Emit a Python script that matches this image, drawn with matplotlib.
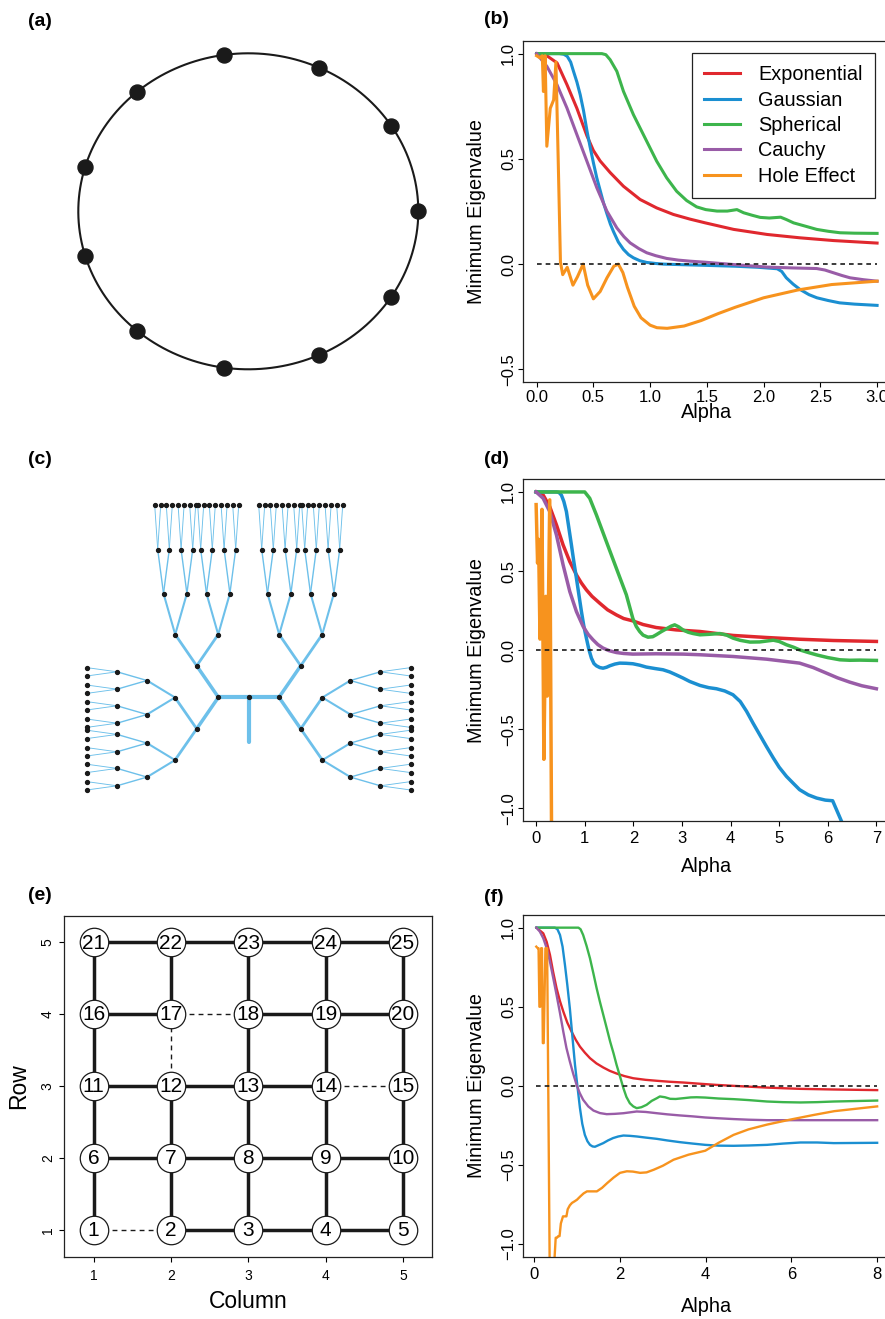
import numpy as np
import matplotlib
matplotlib.use("Agg")
import matplotlib.pyplot as plt

plt.rcParams['font.family'] = ['Liberation Sans', 'DejaVu Sans']

W, H = 885, 1319

# ---- data -------------------------------------------------------------
model_names = ["Exponential", "Gaussian", "Spherical", "Cauchy", "Hole Effect"]
model_colors = ["#E0282E", "#1B8FD1", "#3DB54C", "#995CA7", "#F7931E"]

# panel (b): circle
b_exp_x = [0.0, 0.09, 0.18, 0.267, 0.355, 0.443, 0.5, 0.56, 0.648, 0.765, 0.912, 1.058, 1.205, 1.35, 1.486, 1.736, 2.03, 2.32, 2.615, 3.0]
b_exp_y = [1.0, 0.99, 0.956, 0.853, 0.74, 0.61, 0.54, 0.49, 0.435, 0.37, 0.307, 0.267, 0.236, 0.214, 0.196, 0.165, 0.141, 0.125, 0.112, 0.10]
b_gau_x = [0.0, 0.1, 0.2, 0.24, 0.27, 0.3, 0.325, 0.355, 0.384, 0.413, 0.443, 0.47, 0.501, 0.53, 0.56, 0.59, 0.619, 0.65, 0.677, 0.72, 0.765, 0.81, 0.853, 0.91, 0.97, 1.05, 1.12, 1.3, 1.5, 1.75, 1.95, 2.12, 2.16, 2.2, 2.26, 2.32, 2.4, 2.47, 2.57, 2.67, 2.8, 3.0]
b_gau_y = [1.0, 1.0, 1.0, 0.997, 0.987, 0.96, 0.916, 0.865, 0.805, 0.73, 0.635, 0.56, 0.48, 0.41, 0.35, 0.29, 0.24, 0.19, 0.155, 0.105, 0.07, 0.045, 0.03, 0.016, 0.008, 0.003, 0.0, -0.003, -0.006, -0.01, -0.015, -0.022, -0.035, -0.065, -0.095, -0.12, -0.145, -0.16, -0.173, -0.184, -0.19, -0.196]
b_sph_x = [0.0, 0.3, 0.575, 0.61, 0.648, 0.707, 0.765, 0.853, 0.941, 1.058, 1.146, 1.234, 1.322, 1.41, 1.49, 1.59, 1.68, 1.765, 1.824, 1.9, 1.97, 2.05, 2.15, 2.2, 2.264, 2.37, 2.468, 2.57, 2.674, 2.8, 3.0]
b_sph_y = [1.0, 1.0, 1.0, 0.995, 0.971, 0.916, 0.821, 0.71, 0.615, 0.489, 0.41, 0.346, 0.302, 0.272, 0.259, 0.252, 0.252, 0.259, 0.244, 0.232, 0.222, 0.219, 0.223, 0.212, 0.196, 0.18, 0.165, 0.156, 0.149, 0.147, 0.146]
b_cau_x = [0.0, 0.09, 0.179, 0.267, 0.355, 0.443, 0.531, 0.619, 0.707, 0.77, 0.824, 0.9, 0.97, 1.05, 1.146, 1.25, 1.352, 1.486, 1.6, 1.736, 1.88, 2.03, 2.25, 2.468, 2.54, 2.615, 2.69, 2.762, 2.88, 3.0]
b_cau_y = [1.0, 0.94, 0.853, 0.742, 0.615, 0.489, 0.362, 0.252, 0.172, 0.13, 0.101, 0.074, 0.054, 0.04, 0.027, 0.019, 0.014, 0.009, 0.004, -0.002, -0.008, -0.014, -0.018, -0.021, -0.028, -0.041, -0.054, -0.065, -0.074, -0.081]
b_hol_x = [0.0, 0.03, 0.05, 0.06, 0.075, 0.09, 0.12, 0.15, 0.17, 0.19, 0.21, 0.23, 0.27, 0.32, 0.36, 0.41, 0.45, 0.5, 0.56, 0.62, 0.68, 0.72, 0.76, 0.8, 0.86, 0.92, 1.0, 1.06, 1.15, 1.3, 1.45, 1.6, 1.75, 2.0, 2.3, 2.6, 3.0]
b_hol_y = [0.99, 0.98, 0.99, 0.82, 0.99, 0.56, 0.74, 0.78, 0.96, 0.5, 0.01, -0.05, -0.015, -0.10, -0.06, 0.0, -0.1, -0.165, -0.13, -0.065, -0.01, 0.0, -0.04, -0.11, -0.2, -0.255, -0.29, -0.302, -0.305, -0.294, -0.268, -0.235, -0.205, -0.16, -0.123, -0.097, -0.081]

# panel (d): tree
d_exp_x = [0.0, 0.144, 0.28, 0.418, 0.555, 0.692, 0.829, 0.93, 1.034, 1.15, 1.308, 1.47, 1.65, 1.8, 1.99, 2.2, 2.47, 2.88, 3.37, 4.05, 4.74, 5.42, 6.11, 7.0]
d_exp_y = [1.0, 0.981, 0.907, 0.792, 0.665, 0.56, 0.476, 0.425, 0.381, 0.34, 0.297, 0.255, 0.223, 0.2, 0.185, 0.162, 0.143, 0.128, 0.118, 0.093, 0.08, 0.069, 0.061, 0.055]
d_gau_x = [0.0, 0.418, 0.47, 0.52, 0.57, 0.623, 0.67, 0.726, 0.78, 0.829, 0.88, 0.932, 0.98, 1.034, 1.085, 1.137, 1.19, 1.24, 1.31, 1.377, 1.45, 1.514, 1.62, 1.719, 1.85, 1.99, 2.13, 2.267, 2.44, 2.61, 2.75, 2.88, 3.02, 3.16, 3.37, 3.55, 3.71, 3.88, 4.05, 4.2, 4.33, 4.46, 4.6, 4.74, 4.88, 5.0, 5.15, 5.3, 5.42, 5.6, 5.77, 5.95, 6.1, 6.28, 6.5]
d_gau_y = [1.0, 1.0, 0.997, 0.98, 0.94, 0.876, 0.78, 0.665, 0.55, 0.455, 0.35, 0.244, 0.155, 0.076, 0.005, -0.05, -0.085, -0.099, -0.11, -0.114, -0.108, -0.099, -0.088, -0.082, -0.083, -0.086, -0.095, -0.107, -0.116, -0.124, -0.138, -0.156, -0.176, -0.198, -0.223, -0.237, -0.244, -0.258, -0.282, -0.325, -0.387, -0.46, -0.535, -0.61, -0.682, -0.74, -0.798, -0.845, -0.882, -0.915, -0.935, -0.948, -0.952, -1.08, -1.25]
d_sph_x = [0.0, 1.0, 1.103, 1.24, 1.445, 1.65, 1.856, 1.99, 2.06, 2.13, 2.2, 2.3, 2.4, 2.47, 2.58, 2.68, 2.78, 2.85, 2.93, 3.02, 3.13, 3.23, 3.37, 3.55, 3.78, 3.92, 4.05, 4.2, 4.4, 4.6, 4.88, 5.0, 5.15, 5.3, 5.42, 5.6, 5.77, 6.0, 6.25, 6.45, 6.66, 7.0]
d_sph_y = [1.0, 1.0, 0.96, 0.855, 0.686, 0.518, 0.35, 0.2, 0.15, 0.118, 0.095, 0.082, 0.085, 0.097, 0.118, 0.135, 0.152, 0.16, 0.148, 0.128, 0.113, 0.105, 0.097, 0.1, 0.105, 0.095, 0.076, 0.062, 0.051, 0.052, 0.063, 0.055, 0.034, 0.018, 0.002, -0.015, -0.03, -0.047, -0.061, -0.064, -0.063, -0.065]
d_cau_x = [0.0, 0.144, 0.28, 0.418, 0.555, 0.692, 0.829, 0.966, 1.07, 1.171, 1.27, 1.377, 1.5, 1.65, 1.8, 1.99, 2.47, 3.02, 3.37, 4.05, 4.74, 5.42, 5.7, 5.97, 6.2, 6.45, 6.7, 7.0]
d_cau_y = [1.0, 0.96, 0.876, 0.728, 0.539, 0.371, 0.244, 0.15, 0.1, 0.065, 0.035, 0.013, -0.003, -0.015, -0.021, -0.025, -0.023, -0.025, -0.029, -0.04, -0.057, -0.082, -0.11, -0.145, -0.175, -0.202, -0.225, -0.244]
d_hol_x = [0.0, 0.03, 0.05, 0.08, 0.12, 0.16, 0.2, 0.23, 0.28, 0.32]
d_hol_y = [0.92, 0.55, 0.70, 0.07, 0.89, -0.69, 0.34, -0.29, 0.95, -1.3]

# panel (f): grid
f_exp_x = [0.05, 0.21, 0.29, 0.366, 0.44, 0.52, 0.6, 0.677, 0.77, 0.87, 0.97, 1.066, 1.18, 1.3, 1.45, 1.61, 1.76, 1.92, 2.1, 2.31, 2.6, 2.86, 3.15, 3.48, 3.88, 4.25, 4.65, 5.0, 5.43, 5.8, 6.21, 6.6, 6.99, 7.5, 8.0]
f_exp_y = [1.0, 0.964, 0.91, 0.828, 0.72, 0.617, 0.535, 0.47, 0.4, 0.343, 0.29, 0.248, 0.21, 0.175, 0.142, 0.116, 0.095, 0.078, 0.062, 0.048, 0.038, 0.032, 0.026, 0.021, 0.013, 0.006, 0.0, -0.005, -0.011, -0.015, -0.019, -0.021, -0.023, -0.025, -0.027]
f_gau_x = [0.05, 0.48, 0.54, 0.6, 0.66, 0.716, 0.77, 0.83, 0.89, 0.95, 1.01, 1.066, 1.12, 1.18, 1.24, 1.3, 1.36, 1.416, 1.5, 1.61, 1.72, 1.84, 1.96, 2.08, 2.23, 2.39, 2.6, 2.86, 3.1, 3.4, 3.7, 3.99, 4.3, 4.65, 5.0, 5.43, 5.8, 6.21, 6.6, 6.99, 7.5, 8.0]
f_gau_y = [1.0, 1.0, 0.99, 0.954, 0.88, 0.764, 0.64, 0.49, 0.31, 0.133, -0.01, -0.141, -0.24, -0.31, -0.35, -0.373, -0.383, -0.385, -0.375, -0.362, -0.345, -0.33, -0.32, -0.314, -0.316, -0.32, -0.327, -0.335, -0.345, -0.356, -0.365, -0.373, -0.378, -0.379, -0.377, -0.373, -0.365, -0.358, -0.358, -0.362, -0.361, -0.36]
f_sph_x = [0.05, 1.03, 1.08, 1.14, 1.22, 1.3, 1.38, 1.455, 1.53, 1.61, 1.69, 1.77, 1.85, 1.92, 2.0, 2.08, 2.15, 2.23, 2.31, 2.39, 2.5, 2.62, 2.74, 2.86, 2.93, 3.05, 3.17, 3.3, 3.48, 3.65, 3.79, 3.99, 4.3, 4.65, 5.0, 5.43, 5.8, 6.21, 6.6, 6.99, 7.5, 8.0]
f_sph_y = [1.0, 1.0, 0.99, 0.954, 0.885, 0.806, 0.71, 0.617, 0.533, 0.449, 0.365, 0.28, 0.205, 0.133, 0.06, -0.015, -0.07, -0.11, -0.13, -0.141, -0.135, -0.12, -0.095, -0.078, -0.067, -0.072, -0.082, -0.083, -0.078, -0.073, -0.072, -0.074, -0.08, -0.084, -0.09, -0.099, -0.103, -0.105, -0.103, -0.099, -0.096, -0.093]
f_cau_x = [0.05, 0.13, 0.21, 0.29, 0.366, 0.44, 0.52, 0.6, 0.677, 0.75, 0.83, 0.91, 0.988, 1.06, 1.14, 1.26, 1.38, 1.53, 1.69, 1.88, 2.08, 2.39, 2.6, 2.86, 3.1, 3.4, 3.7, 3.99, 4.3, 4.65, 5.0, 5.43, 6.21, 7.0, 8.0]
f_cau_y = [1.0, 0.975, 0.933, 0.87, 0.785, 0.685, 0.575, 0.46, 0.343, 0.24, 0.154, 0.075, 0.006, -0.045, -0.088, -0.13, -0.156, -0.172, -0.179, -0.177, -0.173, -0.162, -0.165, -0.173, -0.18, -0.187, -0.193, -0.2, -0.205, -0.21, -0.214, -0.217, -0.217, -0.217, -0.217]
f_hol_x = [0.047, 0.08, 0.1, 0.12, 0.14, 0.16, 0.18, 0.2, 0.22, 0.26, 0.3, 0.36, 0.44, 0.475, 0.5, 0.53, 0.56, 0.59, 0.62, 0.67, 0.72, 0.75, 0.78, 0.83, 0.88, 0.94, 0.996, 1.07, 1.15, 1.23, 1.35, 1.46, 1.58, 1.7, 1.85, 2.0, 2.16, 2.3, 2.47, 2.62, 2.79, 3.0, 3.25, 3.6, 3.99, 4.3, 4.65, 5.0, 5.43, 5.98, 6.5, 7.0, 7.5, 8.0]
f_hol_y = [0.88, 0.87, 0.87, 0.5, 0.5, 0.87, 0.87, 0.27, 0.27, 0.87, 0.87, -1.15, -1.4, -1.078, -0.96, -0.96, -0.95, -0.95, -0.87, -0.825, -0.825, -0.825, -0.78, -0.755, -0.74, -0.73, -0.72, -0.70, -0.68, -0.667, -0.667, -0.667, -0.645, -0.615, -0.58, -0.55, -0.54, -0.542, -0.55, -0.547, -0.53, -0.505, -0.467, -0.435, -0.41, -0.36, -0.31, -0.275, -0.245, -0.213, -0.185, -0.16, -0.145, -0.13]

# panel (a): number of sites on the circle
n_circle = 11

# panel (e): 5 x 5 lattice, edges that are dashed
grid_n = 5
dashed_edges = [(1, 2), (17, 18), (12, 17), (14, 15)]

# panel (c): branching layout (split and step per level)
up_split = [21.5, 11.7, 5.8, 3.0]
up_step = [31.3, 41.0, 44.0, 44.3]
side_split = [31.3, 17.0, 8.7, 4.2]
side_step = [21.7, 28.0, 30.0, 30.3]
edge_widths = [2.0, 1.5, 1.0, 0.65]
tree_color = "#6DC0EA"

fig = plt.figure(figsize=(W / 100, H / 100), dpi=100)


def px_axes(left, top, right, bottom):
    return fig.add_axes([left / W, 1 - bottom / H, (right - left) / W, (bottom - top) / H])


def style_box(ax):
    for s in ax.spines.values():
        s.set_linewidth(0.9)
        s.set_color("#222222")


def panel_label(x, y, s):
    fig.text(x / W, 1 - y / H, s, fontsize=14, fontweight="bold", ha="left", va="center")


# ---- (a) circle -------------------------------------------------------
ax_a = px_axes(58.3, 31.3, 438.3, 391.3)
t = np.linspace(0, 2 * np.pi, 400)
ax_a.plot(np.cos(t), np.sin(t), color="#1a1a1a", lw=1.5)
th = 2 * np.pi * np.arange(n_circle) / n_circle
ax_a.plot(np.cos(th), np.sin(th), "o", color="#1a1a1a", ms=10.8)
ax_a.set_xlim(-190 / 170, 190 / 170)
ax_a.set_ylim(-180 / 158, 180 / 158)
ax_a.axis("off")

# ---- (c) tree ---------------------------------------------------------
ax_c = px_axes(60, 480, 440, 810)
ax_c.set_xlim(0, 380)
ax_c.set_ylim(330, 0)
ax_c.axis("off")
center_x, hub_y = 188.7, 217.3
hub_gap, stem_len = 30.3, 44.3
root_dx, root_dy = 21.7, 31.5
nodes = [(center_x - hub_gap, hub_y), (center_x, hub_y), (center_x + hub_gap, hub_y)]


def grow(x, y, level, direction, kind):
    if level == len(up_split):
        return
    for s in (-1, 1):
        if kind == "up":
            nx, ny = x + s * up_split[level], y - up_step[level]
        else:
            nx, ny = x + direction * side_step[level], y + s * side_split[level]
        ax_c.plot([x, nx], [y, ny], color=tree_color, lw=edge_widths[level],
                  solid_capstyle="round", zorder=1)
        nodes.append((nx, ny))
        grow(nx, ny, level + 1, direction, kind)


ax_c.plot([center_x - hub_gap, center_x + hub_gap], [hub_y, hub_y], color=tree_color, lw=3.0,
          solid_capstyle="round", zorder=1)
ax_c.plot([center_x, center_x], [hub_y, hub_y + stem_len], color=tree_color, lw=3.0,
          solid_capstyle="round", zorder=1)
for d in (-1, 1):
    hx = center_x + d * hub_gap
    for kind, sgn in (("up", -1), ("side", 1)):
        rx, ry = hx + d * root_dx, hub_y + sgn * root_dy
        ax_c.plot([hx, rx], [hub_y, ry], color=tree_color, lw=2.5, solid_capstyle="round", zorder=1)
        nodes.append((rx, ry))
        grow(rx, ry, 0, d, kind)
nodes = np.array(nodes)
ax_c.plot(nodes[:, 0], nodes[:, 1], "o", color="#1a1a1a", ms=2.8, zorder=2)

# ---- (e) lattice ------------------------------------------------------
ax_e = px_axes(64.3, 915.7, 432.3, 1256.7)
ids = np.arange(1, grid_n * grid_n + 1)
cols = (ids - 1) % grid_n + 1
rows = (ids - 1) // grid_n + 1
dashed = set(tuple(sorted(e)) for e in dashed_edges)
for k in ids:
    for nb in (k + 1, k + grid_n):
        if nb > grid_n * grid_n or (nb == k + 1 and cols[k - 1] == grid_n):
            continue
        xs = [cols[k - 1], cols[nb - 1]]
        ys = [rows[k - 1], rows[nb - 1]]
        if (k, nb) in dashed:
            ax_e.plot(xs, ys, color="#1a1a1a", lw=1.0, dashes=(3.5, 3.0), zorder=1)
        else:
            ax_e.plot(xs, ys, color="#1a1a1a", lw=2.5, zorder=1)
ax_e.plot(cols, rows, "o", ms=20.5, mfc="white", mec="#1a1a1a", mew=0.9, zorder=2)
for k in ids:
    ax_e.text(cols[k - 1], rows[k - 1] - 0.01, str(k), fontsize=15, ha="center", va="center", zorder=3)
ax_e.set_xlim(0.62, 5.38)
ax_e.set_ylim(0.63, 5.37)
ax_e.set_xticks(range(1, 6))
ax_e.set_yticks(range(1, 6))
ax_e.tick_params(direction="out", length=3.6, width=0.8, labelsize=10)
ax_e.tick_params(axis="x", pad=5.0)
ax_e.tick_params(axis="y", pad=3.2)
for lbl in ax_e.get_yticklabels():
    lbl.set_rotation(90)
    lbl.set_va("center")
style_box(ax_e)
ax_e.set_xlabel("Column", fontsize=16.5, va="center")
ax_e.xaxis.set_label_coords(0.5, -45 / 341)
ax_e.set_ylabel("Row", fontsize=16.5, va="center")
ax_e.yaxis.set_label_coords(-46 / 368, 0.5)


# ---- eigenvalue panels -------------------------------------------------
def eigen_panel(box, xlim, ylim, xticks, xticklabels, series, x_span, lw,
                xpad, xlab_off, legend=False):
    ax = px_axes(*box)
    wpx, hpx = box[2] - box[0], box[3] - box[1]
    for (xs, ys), name, col in zip(series, model_names, model_colors):
        ax.plot(xs, ys, color=col, lw=lw, label=name, solid_joinstyle="round")
    ax.plot(x_span, [0, 0], color="#1a1a1a", lw=1.2, dashes=(2.8, 2.4))
    ax.set_xlim(xlim)
    ax.set_ylim(ylim)
    ax.set_xticks(xticks, xticklabels)
    yt = [v for v in (-1.0, -0.5, 0.0, 0.5, 1.0) if ylim[0] <= v <= ylim[1]]
    ax.set_yticks(yt, [("%.1f" % v).replace("-", "\u2212") for v in yt])
    ax.tick_params(direction="out", length=3.6, width=0.8, labelsize=12)
    ax.tick_params(axis="x", pad=xpad)
    ax.tick_params(axis="y", pad=1.3)
    for lbl in ax.get_yticklabels():
        lbl.set_rotation(90)
        lbl.set_va("center")
    style_box(ax)
    ax.set_xlabel("Alpha", fontsize=14.3, va="center")
    ax.xaxis.set_label_coords(0.5, -xlab_off / hpx)
    ax.set_ylabel("Minimum Eigenvalue", fontsize=14.3, va="center")
    ax.yaxis.set_label_coords(-(box[0] - 476.7) / wpx, 0.5)
    if legend:
        leg = ax.legend(loc="upper right", bbox_to_anchor=(874.7 / W, 1 - 53.3 / H),
                        bbox_transform=fig.transFigure, fontsize=14.3, handlelength=1.85,
                        handletextpad=0.9, labelspacing=0.32, borderpad=0.6,
                        borderaxespad=0, fancybox=False, edgecolor="#222222", framealpha=1)
        leg.get_frame().set_linewidth(0.9)
    return ax


eigen_panel((523, 41, 890.7, 382), (-0.12, 3.12), (-0.56, 1.06),
            [0, 0.5, 1.0, 1.5, 2.0, 2.5, 3.0], ["0.0", "0.5", "1.0", "1.5", "2.0", "2.5", "3.0"],
            [(b_exp_x, b_exp_y), (b_gau_x, b_gau_y), (b_sph_x, b_sph_y), (b_cau_x, b_cau_y), (b_hol_x, b_hol_y)],
            [0, 3], 2.2, 1.8, 31, legend=True)
eigen_panel((523, 479.3, 890, 821), (-0.27, 7.28), (-1.08, 1.08),
            list(range(0, 8)), [str(i) for i in range(0, 8)],
            [(d_exp_x, d_exp_y), (d_gau_x, d_gau_y), (d_sph_x, d_sph_y), (d_cau_x, d_cau_y), (d_hol_x, d_hol_y)],
            [0, 7], 2.5, 3.5, 45.7)
eigen_panel((522.7, 915, 890, 1256.7), (-0.27, 8.3), (-1.08, 1.08),
            [0, 2, 4, 6, 8], ["0", "2", "4", "6", "8"],
            [(f_exp_x, f_exp_y), (f_gau_x, f_gau_y), (f_sph_x, f_sph_y), (f_cau_x, f_cau_y), (f_hol_x, f_hol_y)],
            [0.05, 8], 1.7, 4.0, 50)

panel_label(28, 22, "(a)")
panel_label(484, 20, "(b)")
panel_label(28, 460, "(c)")
panel_label(484, 460, "(d)")
panel_label(28, 895, "(e)")
panel_label(484, 897, "(f)")

fig.savefig("out.png", dpi=100)
